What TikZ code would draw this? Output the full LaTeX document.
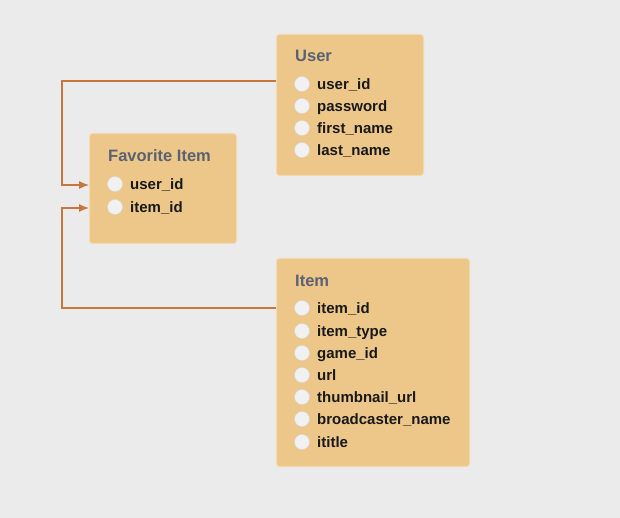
\documentclass[tikz,border=0pt]{standalone}
\usepackage{fontspec}
\setmainfont{Liberation Sans}
\usepackage{tikz}
\usetikzlibrary{calc,positioning,arrows.meta}
\definecolor{bg}{HTML}{EBEBEB}
\definecolor{boxfill}{HTML}{EDC78A}
\definecolor{boxline}{HTML}{F2D9AE}
\definecolor{titlegrey}{HTML}{5A6170}
\definecolor{link}{HTML}{C7763F}
\definecolor{dot}{HTML}{F1F1F1}
\tikzstyle{table}   = [draw=boxline, fill=boxfill, rounded corners=3pt, line width=1pt, anchor=north west, inner sep=0pt]
\tikzstyle{title}   = [anchor=west, text=titlegrey, font=\bfseries\fontsize{16.5}{18}\selectfont, inner sep=0pt, text height=12pt, text depth=0pt]
\tikzstyle{field}   = [anchor=west, text=black!90, font=\bfseries\fontsize{15}{17}\selectfont, inner sep=0pt, text height=11pt, text depth=0pt]
\tikzstyle{dot}     = [circle, draw=black!15, fill=dot, minimum size=15pt, inner sep=0pt]
\tikzstyle{arrow}   = [draw=link, line width=1.2pt, -{Latex[length=10pt,width=8pt]}]

\begin{document}
\begin{tikzpicture}[x=1pt,y=-1pt]
        \fill[bg] (0,0) rectangle (620,518);
        \useasboundingbox (0,0) rectangle (620,518);

        % User
        \node[table, minimum width=147pt, minimum height=141pt] (user) at (276,34) {};
        \node[title] (usertitle) at (295,56) {User};
        \node[dot] (d1) at (302,84) {};
        \node[dot] (d2) at (302,106) {};
        \node[dot] (d3) at (302,128) {};
        \node[dot] (d4) at (302,150) {};
        \node[field] (uuid) at (317,84) {user\_id};
        \node[field] (upass) at (317,106) {password};
        \node[field] (ufirst) at (317,128) {first\_name};
        \node[field] (ulast) at (317,150) {last\_name};

        % Favorite Item
        \node[table, minimum width=147pt, minimum height=110pt] (fav) at (89,133) {};
        \node[title] (favtitle) at (108,156) {Favorite Item};
        \node[dot] (d5) at (115,184) {};
        \node[dot] (d6) at (115,207) {};
        \node[field] (fuid) at (130,184) {user\_id};
        \node[field] (fiid) at (130,207) {item\_id};

        % Item
        \node[table, minimum width=193pt, minimum height=208pt] (item) at (276,258) {};
        \node[title] (itemtitle) at (295,281) {Item};
        \node[dot] (d7) at (302,308) {};
        \node[dot] (d8) at (302,331) {};
        \node[dot] (d9) at (302,353) {};
        \node[dot] (d10) at (302,375) {};
        \node[dot] (d11) at (302,397) {};
        \node[dot] (d12) at (302,419) {};
        \node[dot] (d13) at (302,442) {};
        \node[field] (iiid) at (317,308) {item\_id};
        \node[field] (itype) at (317,331) {item\_type};
        \node[field] (igame) at (317,353) {game\_id};
        \node[field] (iurl) at (317,375) {url};
        \node[field] (ithumb) at (317,397) {thumbnail\_url};
        \node[field] (ibroad) at (317,419) {broadcaster\_name};
        \node[field] (ititle) at (317,442) {ititle};

        % links
        \coordinate (uout) at ($(user.west |- d1)+(0,-3)$);
        \coordinate (iout) at (item.west |- d7);
        \draw[arrow] (uout) -- ++(-214,0) |- ($(fav.west |- d5)+(0,1)$);
        \draw[arrow] (iout) -- ++(-214,0) |- ($(fav.west |- d6)+(0,1)$);
    \end{tikzpicture}
\end{document}
